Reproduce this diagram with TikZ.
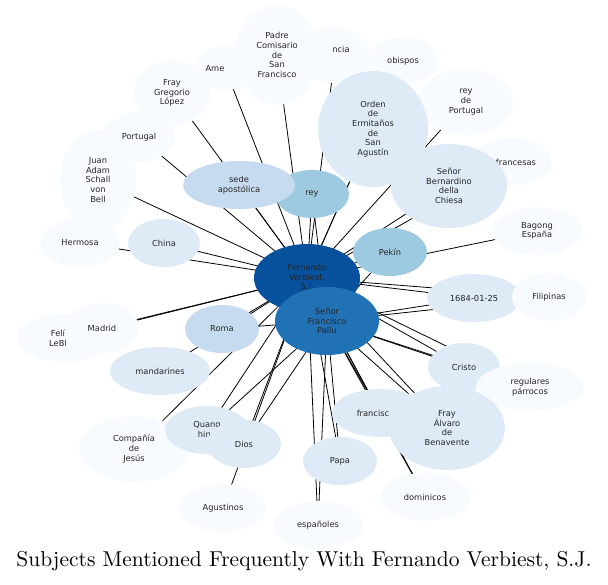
\documentclass[tikz,border=0pt]{standalone}
\usepackage{fontspec}
\newfontfamily\dejavu{DejaVu Sans}
\usetikzlibrary{shapes.geometric}
\definecolor{bluea}{HTML}{F7FBFF}
\definecolor{blueb}{HTML}{DEEBF7}
\definecolor{bluec}{HTML}{C6DBEF}
\definecolor{blued}{HTML}{9ECAE1}
\definecolor{bluee}{HTML}{2171B5}
\definecolor{bluef}{HTML}{08519C}
\tikzset{
  topic/.style={ellipse, inner sep=0pt, font=\dejavu\fontsize{8.3}{9.6}\selectfont, align=center, text=black!85},
  link/.style={black, line width=0.8pt},
}
\begin{document}
\begin{tikzpicture}[x=1pt, y=-1pt]
\useasboundingbox (0,0) rectangle (608,585);
% centres of the topics
\foreach \n/\x/\y in {fv/307/278, pa/327/321, pad/277/55, nci/335/55, ame/225/68, obi/403/61,
  fgl/172/93, por/139/137, jas/98/180, ord/373/129, rdp/466/102, fra/512/162, sbc/449/186,
  sed/239/185, rey/312/194, bag/537/231, her/80/243, chi/164/243, pek/390/252, dat/474/298,
  fil/549/297, fel/65/338, mad/102/328, rom/222/329, man/160/371, cri/464/367, reg/530/387,
  cdj/134/449, qua/207/430, dio/244/444, fsc/380/413, fab/447/428, pap/340/461, dom/425/497,
  agu/223/508, esp/318/525}
  \coordinate (\n) at (\x,\y);
% links
\foreach \t in {pad,nci,ame,obi,fgl,por,jas,ord,rdp,fra,sbc,sed,rey,bag,her,chi,pek,dat,fil,fel,mad,rom,man,cri,reg,cdj,qua,dio,fsc,fab,pap,dom,agu,esp,pa}
  \draw[link] (fv) -- (\t);
\foreach \t in {rom,cri,reg,dat,fil,qua,dio,fsc,fab,pap,dom,esp,rey,pek}
  \draw[link] (pa) -- (\t);
% topics, lightest first
\foreach \n/\rx/\ry/\c in {nci/35/28/bluea, ame/30/22/bluea, obi/35/24/bluea,
  fgl/38/33/bluea, rdp/47/33/bluea, fra/40/24/bluea,
  bag/45/24/bluea, her/40/24/bluea, fel/48/24/bluea,
  cdj/55/33/bluea, dom/45/24/bluea, agu/43/24/bluea, esp/45/24/bluea}
  \fill[\c] (\n) ellipse ({\rx} and {\ry});
\node[topic] at (341,49) {ncia};
\node[topic] at (215,69) {Ame};
\fill[bluea] (pad) ellipse (42 and 50);
\node[topic] at (pad) {Padre\\Comisario\\de\\San\\Francisco};
\node[topic] at (obi) {obispos};
\node[topic] at (fgl) {Fray\\Gregorio\\López};
\fill[bluea] (por) ellipse (36 and 25);
\node[topic] at (por) {Portugal};
\fill[bluea] (jas) ellipse (38 and 50);
\node[topic] at (jas) {Juan\\Adam\\Schall\\von\\Bell};
\node[topic] at (rdp) {rey\\de\\Portugal};
\node[topic] at (516,162) {francesas};
\node[topic] at (bag) {Bagong\\España};
\node[topic] at (her) {Hermosa};
\node[topic] at (58,338) {Felí\\LeBl};
\fill[bluea] (mad) ellipse (37 and 25);
\node[topic] at (mad) {Madrid};
\node[topic] at (cdj) {Compañía\\de\\Jesús};
\node[topic] at (dom) {dominicos};
\node[topic] at (agu) {Agustinos};
\node[topic] at (esp) {españoles};
% light ones
\fill[blueb] (ord) ellipse (55 and 58);
\node[topic] at (ord) {Orden\\de\\Ermitaños\\de\\San\\Agustín};
\fill[blueb] (sbc) ellipse (58 and 42);
\node[topic] at (sbc) {Señor\\Bernardino\\della\\Chiesa};
\fill[blueb] (chi) ellipse (36 and 24);
\node[topic] at (chi) {China};
\fill[blueb] (dat) ellipse (47 and 24);
\node[topic] at (dat) {1684-01-25};
\fill[bluea] (fil) ellipse (37 and 24);
\node[topic] at (fil) {Filipinas};
\fill[blueb] (man) ellipse (50 and 24);
\node[topic] at (man) {mandarines};
\fill[blueb] (cri) ellipse (36 and 24);
\node[topic] at (cri) {Cristo};
\fill[bluea] (reg) ellipse (54 and 24);
\node[topic] at (reg) {regulares\\párrocos};
\fill[blueb] (qua) ellipse (42 and 24);
\node[topic] at (qua) {Quang\\hing};
\fill[blueb] (dio) ellipse (37 and 24);
\node[topic] at (dio) {Dios};
\fill[blueb] (fsc) ellipse (48 and 24);
\node[topic] at (373,413) {francisc};
\fill[blueb] (fab) ellipse (58 and 42);
\node[topic] at (fab) {Fray\\Álvaro\\de\\Benavente};
\fill[blueb] (pap) ellipse (37 and 24);
\node[topic] at (pap) {Papa};
% stronger ones
\fill[blued] (rey) ellipse (37 and 24);
\node[topic] at (rey) {rey};
\fill[bluec] (sed) ellipse (56 and 24);
\node[topic] at (sed) {sede\\apostólica};
\fill[blued] (pek) ellipse (37 and 24);
\node[topic] at (pek) {Pekín};
\fill[bluec] (rom) ellipse (37 and 24);
\node[topic] at (rom) {Roma};
\fill[bluef] (fv) ellipse (53 and 34);
\node[topic] at (fv) {Fernando\\Verbiest,\\S.J.};
\fill[bluee] (pa) ellipse (52 and 34);
\node[topic] at (pa) {Señor\\Francisco\\Pallu};
% title
\node (title) at (304,561) {\resizebox{575pt}{!}{Subjects Mentioned Frequently With Fernando Verbiest, S.J.}};
\end{tikzpicture}
\end{document}
